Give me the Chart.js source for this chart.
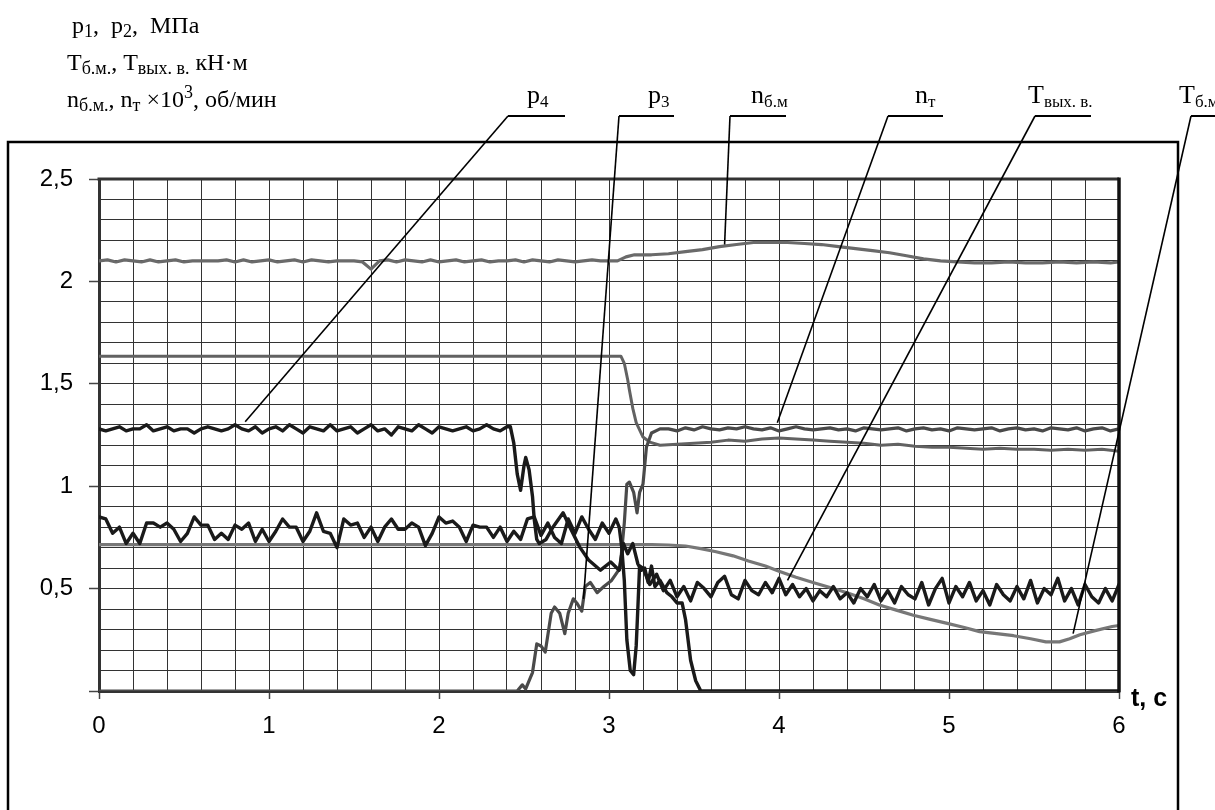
<!DOCTYPE html>
<html lang="ru">
<head>
<meta charset="utf-8">
<title>Переходный процесс</title>
<script src="https://cdn.jsdelivr.net/npm/chart.js@4.4.1/dist/chart.umd.min.js"></script>
<style>
    html, body { margin: 0; padding: 0; background: #fff; }
    #wrap { width: 1215px; height: 810px; position: relative; }
</style>
</head>
<body>
<div id="wrap"><canvas id="chart"></canvas></div>
<script>
// ──────────────────────────────────────────────
// Данные (время t, с — значения по осям)
// ──────────────────────────────────────────────
const xLabelValues = [0, 1, 2, 3, 4, 5, 6];
const xLabelTexts  = ['0', '1', '2', '3', '4', '5', '6'];
const yLabelValues = [0.5, 1, 1.5, 2, 2.5];
const yLabelTexts  = ['0,5', '1', '1,5', '2', '2,5'];

// p4 — шум около 1,28 (шаг 0,04 с от 0 до 2,40), затем спад до нуля
const p4NoiseStart = 0, p4NoiseStep = 0.04;
const p4Noise = [1.28,1.27,1.28,1.29,1.27,1.28,1.28,1.30,1.27,1.28,
                 1.29,1.27,1.28,1.28,1.26,1.28,1.29,1.28,1.27,1.28,
                 1.30,1.28,1.27,1.29,1.26,1.28,1.29,1.27,1.30,1.28,
                 1.26,1.29,1.28,1.27,1.30,1.27,1.28,1.29,1.26,1.28,
                 1.30,1.27,1.28,1.25,1.29,1.28,1.27,1.30,1.28,1.26,
                 1.29,1.28,1.27,1.28,1.29,1.27,1.28,1.30,1.28,1.27,
                 1.29];
const p4DropT = [2.42,2.44,2.46,2.48,2.50,2.51,2.53,2.55,2.56,2.575,
                 2.59,2.63,2.67,2.73,2.77,2.83,2.88,2.95,3.01,3.06,
                 3.085,3.11,3.14,3.17,3.19,3.21,3.23,3.25,3.27,3.30,
                 3.34,3.37,3.40,3.43,3.45,3.48,3.51,3.54,6.0];
const p4DropV = [1.29,1.21,1.06,0.98,1.10,1.14,1.08,0.95,0.84,0.74,
                 0.72,0.74,0.80,0.87,0.80,0.70,0.64,0.59,0.63,0.59,
                 0.72,0.67,0.72,0.62,0.59,0.60,0.53,0.61,0.51,0.54,
                 0.48,0.46,0.43,0.43,0.35,0.15,0.05,0.0,0.0];

// Tвых. в. — шум около 0,78 (0…3,04), провал, затем шум около 0,48 (3,20…6,00)
const tOutStep = 0.04;
const tOutNoise1Start = 0;
const tOutNoise1 = [0.85,0.84,0.77,0.80,0.72,0.77,0.72,0.82,0.82,0.80,
                    0.82,0.79,0.73,0.77,0.85,0.81,0.81,0.74,0.77,0.74,
                    0.81,0.79,0.82,0.73,0.79,0.73,0.78,0.84,0.80,0.80,
                    0.73,0.78,0.87,0.78,0.77,0.70,0.84,0.81,0.82,0.75,
                    0.80,0.73,0.80,0.84,0.79,
                    0.79,0.82,0.80,0.71,0.77,0.85,0.82,0.83,0.80,0.73,
                    0.81,0.80,0.80,0.75,0.80,0.73,0.78,0.74,0.84,0.85,
                    0.76,0.82,0.75,0.72,0.84,0.77,0.85,0.79,0.74,0.82,
                    0.77,0.84];
const tOutDipT = [3.06,3.075,3.09,3.105,3.125,3.145,3.16,3.17,3.18];
const tOutDipV = [0.80,0.70,0.54,0.25,0.10,0.08,0.22,0.41,0.61];
const tOutNoise2Start = 3.20;
const tOutNoise2 = [0.60,0.52,0.57,0.49,0.54,0.46,0.51,0.44,0.53,0.50,
                    0.46,0.53,0.56,0.47,0.45,0.54,0.49,0.47,0.53,0.48,
                    0.55,
                    0.47,0.52,0.46,0.50,0.44,0.49,0.46,0.51,0.45,0.48,
                    0.43,0.50,0.46,0.52,0.44,0.49,0.43,0.51,0.47,0.45,
                    0.53,0.42,0.50,0.55,0.43,
                    0.51,0.46,0.53,0.44,0.49,0.42,0.52,0.47,0.44,0.51,
                    0.45,0.54,0.43,0.50,0.47,0.55,0.44,0.50,0.42,0.52,
                    0.46,0.43,0.50,0.44,0.52];

// nт — разгон от нуля, затем около 1,28
const ntRiseT = [0,2.46,2.49,2.51,2.55,2.575,2.60,2.625,2.66,2.68,
                 2.71,2.74,2.76,2.79,2.81,2.84,2.86,2.89,2.93,2.97,
                 3.015,3.065,3.09,3.105,3.12,3.145,3.165,3.18,3.20,3.22,
                 3.25,3.30];
const ntRiseV = [0,0,0.03,0.01,0.09,0.23,0.22,0.19,0.38,0.41,
                 0.38,0.28,0.38,0.45,0.43,0.39,0.51,0.53,0.48,0.51,
                 0.54,0.60,0.82,1.01,1.02,0.97,0.87,0.97,1.01,1.19,
                 1.26,1.28];
const ntNoiseStart = 3.35, ntNoiseStep = 0.05;
const ntNoise = [1.28,1.27,1.285,1.275,1.29,1.28,1.275,1.285,1.28,1.29,
                 1.28,1.275,1.285,1.27,1.28,1.29,1.28,1.275,1.28,1.285,
                 1.275,1.28,1.27,1.285,1.28,1.275,1.28,1.285,1.27,1.28,
                 1.285,1.275,1.28,1.27,1.285,1.28,1.275,1.28,1.285,1.27,
                 1.28,1.285,1.275,1.28,1.27,1.285,1.28,1.275,1.285,1.27,
                 1.28,1.285,1.27,1.28];

// p1 — 1,64 до 3,07 с, затем около 1,2
const p1DropT = [0,3.07,3.09,3.11,3.12,3.14,3.16,3.20,3.24];
const p1DropV = [1.635,1.635,1.60,1.52,1.47,1.38,1.31,1.24,1.215];
const p1TailStart = 3.3, p1TailStep = 0.1;
const p1Tail = [1.20,1.205,1.21,1.215,1.225,1.22,1.23,1.235,1.23,1.225,
                1.22,1.215,1.21,1.20,1.205,1.195,1.19,1.19,1.185,1.18,
                1.185,1.18,1.18,1.175,1.18,1.175,1.18,1.17];

// nб.м — около 2,1 (шаг 0,05 с до 3,0), затем подъём до 2,19
const nbmNoiseStart = 0, nbmNoiseStep = 0.05;
const nbmNoise = [2.10,2.105,2.095,2.105,2.10,2.095,2.105,2.095,2.10,2.105,
                  2.095,2.10,2.10,2.10,2.10,2.105,2.095,2.105,2.095,2.10,
                  2.105,2.095,2.10,2.105,2.095,2.105,2.10,2.095,2.10,2.10,
                  2.10,2.095,2.06,2.10,2.105,2.095,2.105,2.10,2.095,2.105,
                  2.095,2.10,2.105,2.095,2.10,2.105,2.095,2.10,2.10,2.105,
                  2.095,2.105,2.10,2.095,2.105,2.10,2.095,2.10,2.105,2.10,
                  2.10];
const nbmBumpT = [3.05,3.10,3.15,3.25,3.35,3.45,3.55,3.65,3.75,3.85,
                  3.95,4.05,4.15,4.25,4.35,4.45,4.55,4.65,4.75,4.85,
                  4.95,5.05,5.15,5.25,5.35,5.45,5.55,5.65,5.75,5.85,
                  5.95,6.0];
const nbmBumpV = [2.10,2.12,2.13,2.13,2.135,2.145,2.155,2.17,2.18,2.19,
                  2.19,2.19,2.185,2.18,2.17,2.16,2.15,2.14,2.125,2.11,
                  2.10,2.095,2.09,2.09,2.095,2.09,2.09,2.095,2.09,2.095,
                  2.09,2.095];

// Tб.м — 0,715 до 3,25 с, плавный спад до 0,24 и подъём
const tbmT = [0,3.25,3.35,3.45,3.54,3.63,3.73,3.82,3.92,4.0,
              4.1,4.2,4.3,4.4,4.5,4.59,4.69,4.79,4.89,4.99,
              5.09,5.18,5.28,5.38,5.48,5.57,5.65,5.71,5.77,5.86,
              5.96,6.0];
const tbmV = [0.715,0.715,0.713,0.708,0.695,0.68,0.66,0.635,0.61,0.585,
              0.555,0.53,0.505,0.48,0.45,0.42,0.395,0.37,0.35,0.33,
              0.31,0.29,0.28,0.27,0.255,0.24,0.24,0.255,0.275,0.295,
              0.315,0.32];

// Выноски: подпись и точка на кривой (t, значение)
const calloutNames   = [['p','4'], ['p','3'], ['n','б.м'], ['n','т'], ['T','вых. в.'], ['T','б.м']];
const calloutTargetT = [0.86, 2.85, 3.68, 3.99, 4.05, 5.73];
const calloutTargetV = [1.315, 0.45, 2.18, 1.31, 0.54, 0.28];

// ──────────────────────────────────────────────
// Сборка точек
// ──────────────────────────────────────────────
function sampled(t0, dt, vals) {
    return vals.map((v, i) => ({ x: Math.round((t0 + i * dt) * 1000) / 1000, y: v }));
}
function paired(ts, vs) {
    return ts.map((t, i) => ({ x: t, y: vs[i] }));
}

const p4Data   = sampled(p4NoiseStart, p4NoiseStep, p4Noise).concat(paired(p4DropT, p4DropV));
const tOutData = sampled(tOutNoise1Start, tOutStep, tOutNoise1)
                    .concat(paired(tOutDipT, tOutDipV))
                    .concat(sampled(tOutNoise2Start, tOutStep, tOutNoise2));
const ntData   = paired(ntRiseT, ntRiseV).concat(sampled(ntNoiseStart, ntNoiseStep, ntNoise));
const p1Data   = paired(p1DropT, p1DropV).concat(sampled(p1TailStart, p1TailStep, p1Tail));
const nbmData  = sampled(nbmNoiseStart, nbmNoiseStep, nbmNoise).concat(paired(nbmBumpT, nbmBumpV));
const tbmData  = paired(tbmT, tbmV);

// ──────────────────────────────────────────────
// Оформление
// ──────────────────────────────────────────────
const SANS  = '"Liberation Sans", Arial, sans-serif';
const SERIF = '"Liberation Serif", "Times New Roman", serif';
const GRID  = '#333';
const TICK  = '#444';

const near = (a, b) => Math.abs(a - b) < 1e-6;
const labelFor = (v, vals, texts) => {
    const i = vals.findIndex(u => near(u, v));
    return i >= 0 ? texts[i] : '';
};
const isMajorX = v => xLabelValues.some(u => near(u, v));
const isMajorY = v => near(v, 0) || yLabelValues.some(u => near(u, v));

function line(label, data, color, width) {
    return {
        label, data,
        borderColor: color, borderWidth: width,
        pointRadius: 0, pointHoverRadius: 0, tension: 0,
        borderJoinStyle: 'round', borderCapStyle: 'round', fill: false
    };
}

// Текст с нижними/верхними индексами: [текст, 0 — обычный, 1 — нижний, 2 — верхний]
function drawRich(ctx, x, y, parts, size, family, ratio) {
    parts.forEach(([text, mode]) => {
        const fs = mode ? Math.round(size * ratio) : size;
        const dy = mode === 1 ? size * 0.15 : mode === 2 ? -size * 0.36 : 0;
        ctx.font = `${fs}px ${family}`;
        ctx.fillText(text, x, y + dy);
        x += ctx.measureText(text).width;
    });
}

const headerLines = [
    { x: 72, y: 33, parts: [['p',0],['1',1],[',  ',0],['p',0],['2',1],[',  МПа',0]] },
    { x: 67, y: 70, parts: [['T',0],['б.м.',1],[', T',0],['вых. в.',1],[' кН·м',0]] },
    { x: 67, y: 107, parts: [['n',0],['б.м.',1],[', n',0],['т',1],[' ×10',0],['3',2],[', об/мин',0]] }
];
const calloutLayout = [
    { tx: 527,  ux0: 508,  ux1: 565 },
    { tx: 648,  ux0: 619,  ux1: 674 },
    { tx: 751,  ux0: 730,  ux1: 786 },
    { tx: 915,  ux0: 888,  ux1: 943 },
    { tx: 1028, ux0: 1035, ux1: 1091 },
    { tx: 1179, ux0: 1191, ux1: 1216 }
];

const decor = {
    id: 'decor',
    afterDraw(chart) {
        const { ctx, chartArea: a, scales: { x, y } } = chart;
        ctx.save();

        // верхняя и правая границы поля графика
        ctx.lineCap = 'butt';
        ctx.strokeStyle = '#333'; ctx.lineWidth = 3;
        ctx.beginPath(); ctx.moveTo(a.left - 1.5, a.top); ctx.lineTo(a.right, a.top); ctx.stroke();
        ctx.strokeStyle = '#111'; ctx.lineWidth = 3.5;
        ctx.beginPath(); ctx.moveTo(a.right, a.top - 1.5); ctx.lineTo(a.right, a.bottom + 1.5); ctx.stroke();

        // внешняя рамка
        ctx.strokeStyle = '#000'; ctx.lineWidth = 2.5;
        ctx.beginPath(); ctx.moveTo(8, 820); ctx.lineTo(8, 142); ctx.lineTo(1178, 142); ctx.lineTo(1178, 820); ctx.stroke();

        // подписи осей
        ctx.fillStyle = '#000';
        ctx.textBaseline = 'alphabetic';
        ctx.textAlign = 'left';
        headerLines.forEach(h => drawRich(ctx, h.x, h.y, h.parts, 24, SERIF, 0.76));
        ctx.font = `bold 25px ${SANS}`;
        ctx.fillText('t, c', 1131, 706);

        // выноски
        ctx.strokeStyle = '#000';
        calloutNames.forEach((name, i) => {
            const L = calloutLayout[i];
            drawRich(ctx, L.tx, 103, [[name[0], 0], [name[1], 1]], 26, SERIF, 0.64);
            ctx.lineWidth = 2;
            ctx.beginPath(); ctx.moveTo(L.ux0, 116); ctx.lineTo(L.ux1, 116); ctx.stroke();
            ctx.lineWidth = 1.6;
            ctx.beginPath();
            ctx.moveTo(L.ux0, 116);
            ctx.lineTo(x.getPixelForValue(calloutTargetT[i]), y.getPixelForValue(calloutTargetV[i]));
            ctx.stroke();
        });
        ctx.restore();
    }
};

// ──────────────────────────────────────────────
// График
// ──────────────────────────────────────────────
new Chart(document.getElementById('chart'), {
    type: 'line',
    data: {
        datasets: [
            line('p4',       p4Data,   '#1a1a1a', 3.4),
            line('Tвых. в.', tOutData, '#1a1a1a', 3.4),
            line('nт',       ntData,   '#4a4a4a', 3.2),
            line('p1',       p1Data,   '#626262', 3),
            line('nб.м',     nbmData,  '#6a6a6a', 3.2),
            line('Tб.м',     tbmData,  '#777777', 3.2)
        ]
    },
    options: {
        responsive: true,
        maintainAspectRatio: false,
        animation: false,
        devicePixelRatio: 1,
        events: [],
        layout: { padding: { top: 179, right: 96, left: 0, bottom: 0 } },
        plugins: { legend: { display: false }, tooltip: { enabled: false } },
        scales: {
            x: {
                type: 'linear', min: 0, max: 6,
                afterFit: s => { s.height = 119; },
                grid: {
                    color: GRID, lineWidth: 1, tickLength: 8, tickWidth: 1.5,
                    tickColor: c => isMajorX(c.tick.value) ? TICK : 'rgba(0,0,0,0)'
                },
                border: { display: true, color: '#333', width: 3 },
                ticks: {
                    stepSize: 0.2, autoSkip: false, maxRotation: 0, minRotation: 0,
                    padding: 13, color: '#000', font: { family: SANS, size: 24 },
                    callback: v => labelFor(v, xLabelValues, xLabelTexts)
                }
            },
            y: {
                type: 'linear', min: 0, max: 2.5,
                afterFit: s => { s.width = 99; },
                grid: {
                    color: GRID, lineWidth: 1, tickLength: 10, tickWidth: 1.5,
                    tickColor: c => isMajorY(c.tick.value) ? TICK : 'rgba(0,0,0,0)'
                },
                border: { display: true, color: '#333', width: 3 },
                ticks: {
                    stepSize: 0.1, autoSkip: false,
                    padding: 16, color: '#000', font: { family: SANS, size: 24 },
                    callback: v => labelFor(v, yLabelValues, yLabelTexts)
                }
            }
        }
    },
    plugins: [decor]
});
</script>
</body>
</html>
